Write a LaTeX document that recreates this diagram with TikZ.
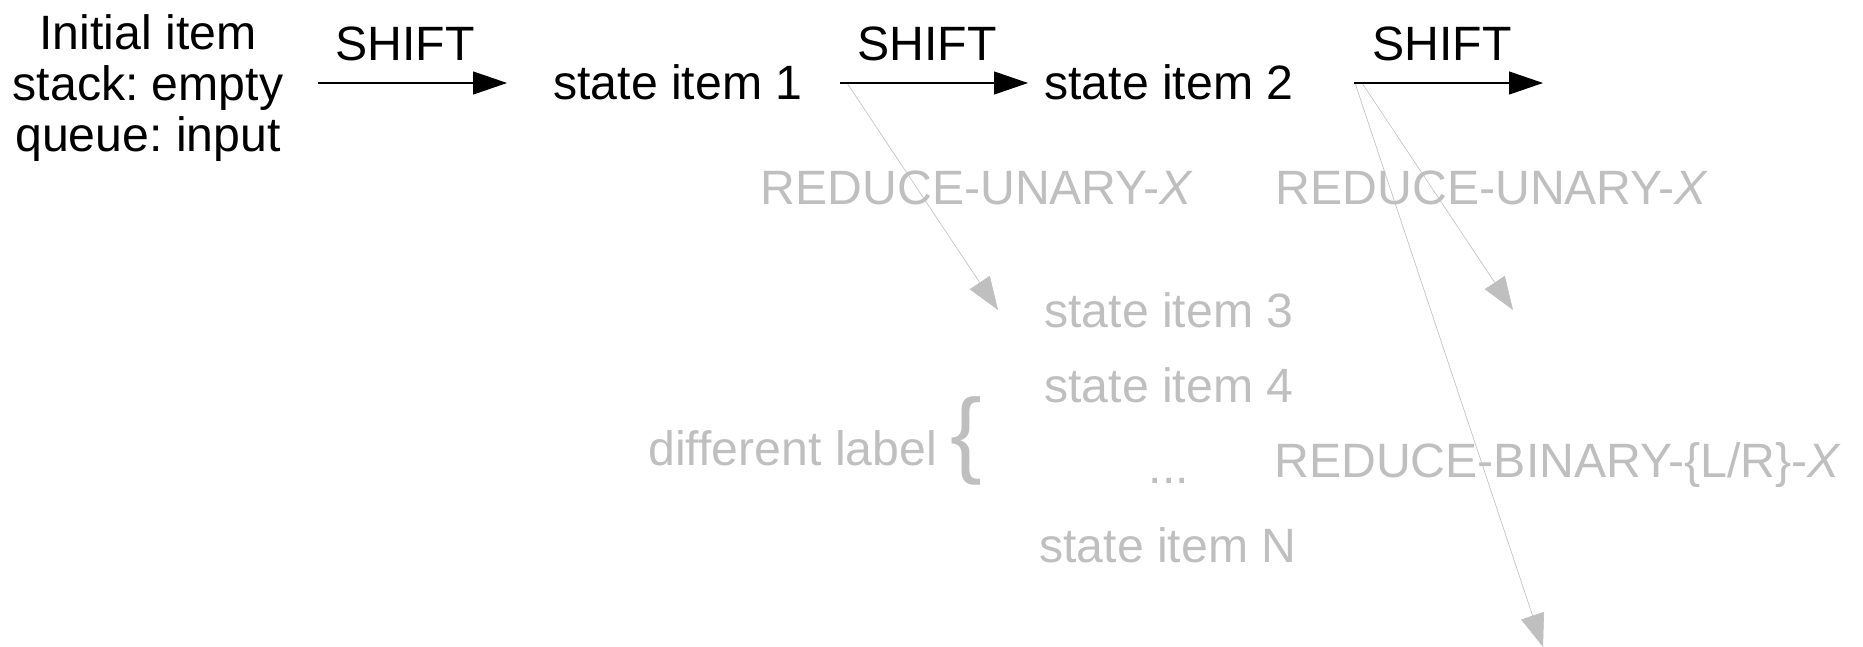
\documentclass[tikz,border=0pt]{standalone}
\usepackage{fontspec}
\setmainfont{Liberation Sans}
\usetikzlibrary{arrows.meta}
\definecolor{lightg}{RGB}{191,191,191}
\frenchspacing
\tikzset{
  txt/.style={inner sep=0pt, font=\fontsize{24.1}{25.5}\selectfont\frenchspacing},
  gtxt/.style={txt, text=lightg},
  shiftarrow/.style={draw=black, line width=0.55pt, -{Triangle[length=17pt,width=11.5pt]}},
  reducearrow/.style={draw=lightg, line width=0.3pt, -{Triangle[length=16.5pt,width=12pt]}, color=lightg},
}
\begin{document}
\begin{tikzpicture}[x=0.5pt,y=-0.5pt]
\useasboundingbox (0,0) rectangle (1863,647);
% black row
\node[txt, align=center] (init) at (148,88) {Initial item\\stack: empty\\queue: input};
\node[txt, anchor=base] (shift1) at (405,61) {SHIFT};
\node[txt, anchor=base] (s1) at (678,100) {state item 1};
\node[txt, anchor=base] (shift2) at (927,61) {SHIFT};
\node[txt, anchor=base] (s2) at (1169,100) {state item 2};
\node[txt, anchor=base] (shift3) at (1442,61) {SHIFT};
% gray labels and items
\node[gtxt, anchor=base] (ru1) at (977,205) {REDUCE-UNARY-\textit{X}};
\node[gtxt, anchor=base] (ru2) at (1492,205) {REDUCE-UNARY-\textit{X}};
\node[gtxt, anchor=base] (s3) at (1169,327) {state item 3};
\node[gtxt, anchor=base] (s4) at (1169,402) {state item 4};
\node[gtxt, anchor=base] (dots) at (1169,483) {...};
\node[gtxt, anchor=base] (sN) at (1168,562) {state item N};
\node[gtxt, anchor=base west] (rb) at (1274,477) {REDUCE-BINARY-\{L/R\}-\textit{X}};
\node[gtxt, anchor=base west] (dl) at (648,465) {different label {\fontsize{47.5}{50}\selectfont\{}};
% arrow end points
\coordinate (a1s) at (318,83);
\coordinate (a1e) at (507,83);
\coordinate (a2s) at (840,83);
\coordinate (a2e) at (1028,83);
\coordinate (a3s) at (1354,83);
\coordinate (a3e) at (1543,83);
\coordinate (g1s) at (847,83);
\coordinate (g1e) at (998,310);
\coordinate (g2s) at (1362,83);
\coordinate (g2e) at (1513,310);
\coordinate (g3s) at (1355,83);
\coordinate (g3e) at (1543,647);
% gray reduce arrows
\draw[reducearrow] (g1s) -- (g1e);
\draw[reducearrow] (g2s) -- (g2e);
\draw[reducearrow] (g3s) -- (g3e);
% shift arrows
\draw[shiftarrow] (a1s) -- (a1e);
\draw[shiftarrow] (a2s) -- (a2e);
\draw[shiftarrow] (a3s) -- (a3e);
\end{tikzpicture}
\end{document}
